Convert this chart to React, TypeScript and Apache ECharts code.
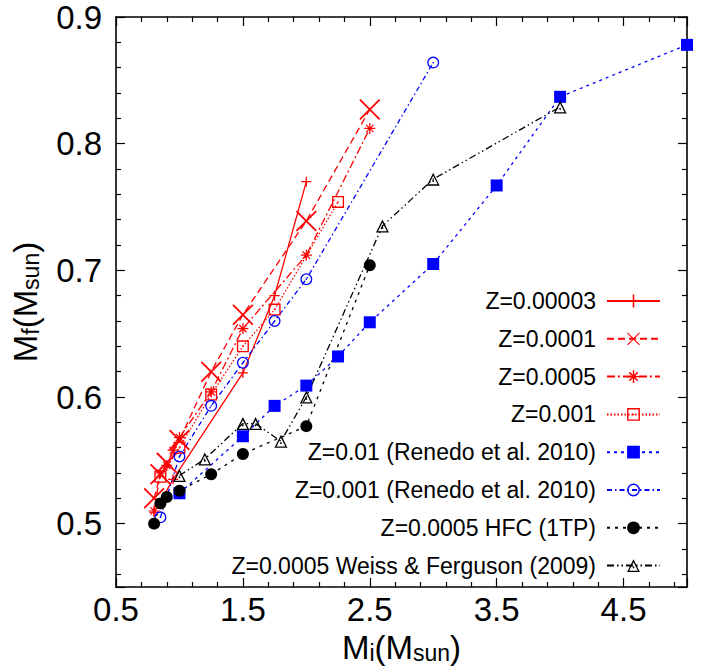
import React, { useEffect, useRef } from 'react';
import * as echarts from 'echarts';

// ---- data ----
const seriesNames = [
  'Z=0.00003',
  'Z=0.0001',
  'Z=0.0005',
  'Z=0.001',
  'Z=0.01 (Renedo et al. 2010)',
  'Z=0.001 (Renedo et al. 2010)',
  'Z=0.0005 HFC (1TP)',
  'Z=0.0005 Weiss & Ferguson (2009)',
];

const z00003 = [[0.8, 0.509], [0.95, 0.535], [1.5, 0.619], [1.75, 0.68], [2.0, 0.77]];
const z0001 = [[0.8, 0.52], [0.85, 0.539], [0.9, 0.548], [1.0, 0.566], [1.25, 0.62], [1.5, 0.665], [2.0, 0.739], [2.5, 0.827]];
const z0005 = [[0.8, 0.51], [0.85, 0.54], [0.9, 0.546], [0.95, 0.558], [1.0, 0.568], [1.25, 0.604], [1.5, 0.654], [2.0, 0.712], [2.5, 0.812]];
const z001 = [[0.85, 0.537], [1.0, 0.56], [1.25, 0.602], [1.5, 0.64], [1.75, 0.669], [2.25, 0.754]];
const renedo001 = [[1.0, 0.524], [1.5, 0.569], [1.75, 0.593], [2.0, 0.609], [2.25, 0.632], [2.5, 0.659], [3.0, 0.705], [3.5, 0.767], [4.0, 0.837], [5.0, 0.878]];
const renedo0001 = [[0.85, 0.505], [1.0, 0.553], [1.25, 0.593], [1.5, 0.627], [1.75, 0.66], [2.0, 0.693], [3.0, 0.864]];
const hfc = [[0.8, 0.5], [0.85, 0.516], [0.9, 0.521], [1.0, 0.526], [1.25, 0.539], [1.5, 0.555], [2.0, 0.577], [2.5, 0.704]];
const weiss = [[1.0, 0.538], [1.2, 0.551], [1.5, 0.579], [1.6, 0.579], [1.8, 0.565], [2.0, 0.6], [2.6, 0.735], [3.0, 0.772], [4.0, 0.829]];

const seriesData = [z00003, z0001, z0005, z001, renedo001, renedo0001, hfc, weiss];

// ---- styles ----
const PLUS = 'path://M4.4 0H5.6V10H4.4Z M0 4.4H10V5.6H0Z';
const CROSS = 'path://M0 0.6L0.6 0L10 9.4L9.4 10Z M9.4 0L10 0.6L0.6 10L0 9.4Z';
const STAR = 'path://M4.45 0H5.55V10H4.45Z M0 4.45H10V5.55H0Z M1.3 2.1L2.1 1.3L8.7 7.9L7.9 8.7Z M7.9 1.3L8.7 2.1L2.1 8.7L1.3 7.9Z';
const OSQUARE = 'path://M0 0H10V10H0Z M1.1 1.1V8.9H8.9V1.1Z M4.4 4.4H5.6V5.6H4.4Z';
const OCIRCLE = 'path://M5 0A5 5 0 1 1 5 10A5 5 0 1 1 5 0Z M5 1.1A3.9 3.9 0 1 0 5 8.9A3.9 3.9 0 1 0 5 1.1Z M4.4 4.4H5.6V5.6H4.4Z';
const OTRI = 'path://M5 0L10 9L0 9Z M5 2.1L1.6 8.1L8.4 8.1Z M4.4 5.2H5.6V6.4H4.4Z';

const styles = [
  { color: '#ff0000', symbol: PLUS, size: 10, dash: 'solid' as any },
  { color: '#ff0000', symbol: CROSS, size: 21, dash: [7, 4] },
  { color: '#ff0000', symbol: STAR, size: 11, dash: [8, 3, 2, 3] },
  { color: '#ff0000', symbol: OSQUARE, size: 12, dash: [1.5, 2] },
  { color: '#0000ff', symbol: 'rect', size: 12, dash: [3, 4] },
  { color: '#0000ff', symbol: OCIRCLE, size: 12, dash: [5, 3, 1.5, 3] },
  { color: '#000000', symbol: 'circle', size: 12, dash: [3, 5] },
  { color: '#000000', symbol: OTRI, size: 13, dash: [7, 3, 1.5, 3, 1.5, 3] },
];

const FONT = 'Liberation Sans, Arial, Helvetica, sans-serif';

const titleRich = {
  m: { fontSize: 33, fontFamily: FONT, color: '#000', lineHeight: 34 },
  s: { fontSize: 23, fontFamily: FONT, color: '#000', lineHeight: 13, verticalAlign: 'bottom' as const },
};

function makeXAxis(main: boolean) {
  return {
    type: 'value',
    position: main ? 'bottom' : 'top',
    min: 0.5,
    max: 5.0,
    interval: 1,
    axisLine: { show: true, onZero: false, lineStyle: { color: '#000', width: 1.6 } },
    axisTick: { show: true, inside: true, length: 9, lineStyle: { color: '#000', width: 1.2 } },
    minorTick: { show: true, splitNumber: 5, length: 5, lineStyle: { color: '#000', width: 1.2 } },
    splitLine: { show: false },
    axisLabel: {
      show: main,
      fontSize: 33,
      fontFamily: FONT,
      color: '#000',
      margin: 6,
      showMaxLabel: false,
      formatter: (v: number) => (v > 4.9 ? '' : v.toFixed(1)),
    },
    name: main ? '{m|M}{s|i}{m|(M}{s|sun}{m|)}' : '',
    nameLocation: 'middle',
    nameGap: 36,
    nameTextStyle: { rich: titleRich },
  };
}

function makeYAxis(main: boolean) {
  return {
    type: 'value',
    position: main ? 'left' : 'right',
    min: 0.45,
    max: 0.9,
    splitNumber: 5,
    axisLine: { show: true, onZero: false, lineStyle: { color: '#000', width: 1.6 } },
    axisTick: { show: true, inside: true, length: 9, lineStyle: { color: '#000', width: 1.2 } },
    minorTick: { show: true, splitNumber: 5, length: 5, lineStyle: { color: '#000', width: 1.2 } },
    splitLine: { show: false },
    axisLabel: {
      show: main,
      fontSize: 33,
      fontFamily: FONT,
      color: '#000',
      margin: 14,
      showMinLabel: false,
      formatter: (v: number) => (v < 0.48 ? '' : v.toFixed(1)),
    },
    name: main ? '{m|M}{s|f}{m|(M}{s|sun}{m|)}' : '',
    nameLocation: 'middle',
    nameRotate: 90,
    nameGap: 74,
    nameTextStyle: { rich: titleRich },
  };
}

export default function App() {
  const ref = useRef<HTMLDivElement>(null);

  useEffect(() => {
    if (!ref.current) return;
    const chart = echarts.init(ref.current, undefined, { renderer: 'svg' });
    const option: any = {
      animation: false,
      backgroundColor: '#fff',
      grid: { left: 116, right: 23, top: 17, bottom: 79, containLabel: false, outerBoundsMode: 'none' },
      xAxis: [makeXAxis(true), makeXAxis(false)],
      yAxis: [makeYAxis(true), makeYAxis(false)],
      legend: {
        orient: 'vertical',
        right: 44,
        top: 284,
        align: 'right',
        itemWidth: 53,
        itemHeight: 16,
        itemGap: 13.8,
        selectedMode: false,
        textStyle: { fontSize: 23, fontFamily: FONT, color: '#000', lineHeight: 24, padding: [0, 6, 0, 0] },
        data: seriesNames,
      },
      series: seriesNames.map((name, i) => ({
        name,
        type: 'line',
        xAxisIndex: 0,
        yAxisIndex: 0,
        data: seriesData[i],
        symbol: styles[i].symbol,
        symbolSize: styles[i].size,
        showSymbol: true,
        clip: false,
        itemStyle: { color: styles[i].color, borderWidth: 0 },
        lineStyle: { color: styles[i].color, width: 1.3, type: styles[i].dash },
        emphasis: { disabled: true },
        z: 2,
      })),
    };
    chart.setOption(option);
    return () => chart.dispose();
  }, []);

  return <div ref={ref} style={{ position: 'absolute', left: 0, top: 0, width: 710, height: 666 }} />;
}
